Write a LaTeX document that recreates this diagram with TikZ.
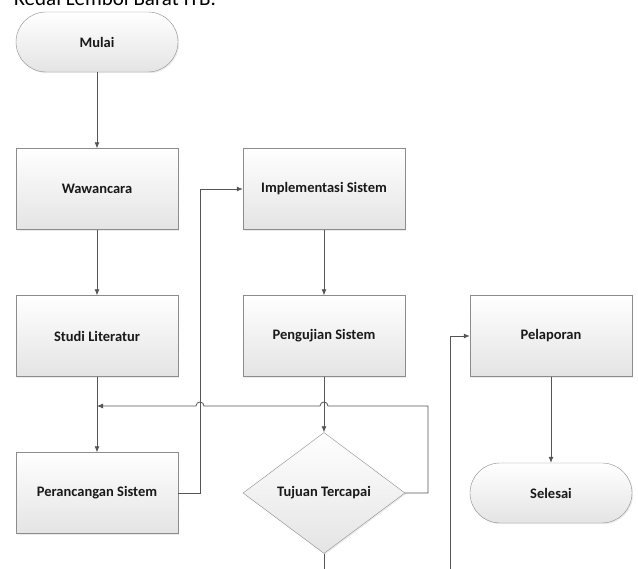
\documentclass[tikz,border=0pt]{standalone}
\usepackage{fontspec}
\setmainfont{Carlito}
\usepackage{tikz}
\usetikzlibrary{shapes.geometric}
\usetikzlibrary{shadows}
\usetikzlibrary{arrows.meta}
\tikzset{>={Latex[length=6pt,width=5pt]}}

\definecolor{edgegray}{HTML}{8C8C8C}
\definecolor{linegray}{HTML}{555555}
\definecolor{boxbottom}{HTML}{E4E4E4}

\begin{document}
\begin{tikzpicture}[x=1pt, y=-1pt]
\tikzset{
  procbox/.style={draw=edgegray, rectangle, minimum width=162pt, minimum height=81pt,
    top color=white, bottom color=boxbottom, drop shadow={opacity=0.15, shadow xshift=1.2pt, shadow yshift=-1.2pt},
    font=\fontsize{14.5}{16}\selectfont\bfseries, text=black!90},
  termbox/.style={procbox, minimum height=60pt, rounded corners=30pt},
  decbox/.style={procbox, diamond, minimum width=162pt, minimum height=121pt, inner sep=0pt},
  flow/.style={draw=linegray, line width=0.8pt}
}
    \useasboundingbox (0,0) rectangle (638,569);

    % cut-off heading line at the top
    \node[anchor=base west, inner sep=0pt, font=\fontsize{21}{24}\selectfont, text=black] (heading) at (14,6) {Kedai Lembol Barat ITB.};

    \node[termbox] (mulai) at (97,42) {Mulai};
    \node[procbox] (wawancara) at (97,189) {Wawancara};
    \node[procbox] (studi) at (97,336) {Studi Literatur};
    \node[procbox] (perancangan) at (97,493) {Perancangan Sistem};

    \node[procbox] (implementasi) at (324,189) {Implementasi Sistem};
    \node[procbox] (pengujian) at (324,336) {Pengujian Sistem};
    \node[decbox] (tujuan) at (324,493) {Tujuan Tercapai};

    \node[procbox] (pelaporan) at (551,336) {Pelaporan};
    \node[termbox] (selesai) at (551,493) {Selesai};

    \coordinate (join) at (97,406);
    \coordinate (hopL) at (200,406);
    \coordinate (hopR) at (324,406);
    \coordinate (loopR) at (428,406);
    \coordinate (tujuanOut) at (324,575);
    \coordinate (lapIn) at (450,575);

% % % % % % % % % % % % % % % % % % %
    \draw[flow, ->] (mulai) -- (wawancara);
    \draw[flow, ->] (wawancara) -- (studi);
    \draw[flow, ->] (studi) -- (perancangan);

    \draw[flow, ->] (perancangan.east) -- (perancangan.east -| hopL) -- (implementasi.west -| hopL) -- (implementasi.west);
    \draw[flow, ->] (implementasi) -- (pengujian);
    \draw[flow, ->] (pengujian.south) -- (tujuan.north);

    % back to perancangan, hopping over the two vertical lines
    \draw[flow, ->] (tujuan.east) -- (tujuan.east -| loopR) -- (loopR)
        -- ([xshift=4pt]hopR) arc (0:-180:4) -- ([xshift=4pt]hopL) arc (0:-180:4) -- (join);

    \draw[flow] (tujuan.south) -- (tujuanOut);
    \draw[flow, ->] (lapIn) |- (pelaporan.west);
    \draw[flow, ->] (pelaporan) -- (selesai);

\end{tikzpicture}
\end{document}
